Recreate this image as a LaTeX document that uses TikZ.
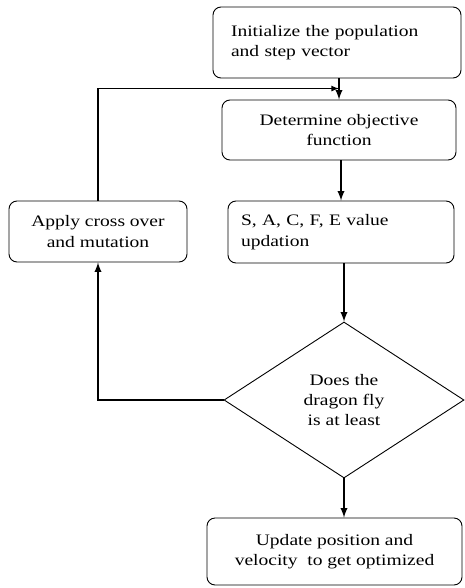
\documentclass[tikz,border=0pt]{standalone}
\usepackage{fontspec}
\setmainfont[FakeStretch=1.22]{Liberation Serif}
\usepackage{tikz}
\usetikzlibrary{arrows}
\usetikzlibrary{shapes.geometric}
\tikzstyle{stepbox}=[draw=black, line width=0.9pt, rounded corners=8pt, inner sep=0pt, align=center, font=\fontsize{16}{20.5}\selectfont]
\tikzstyle{query}=[draw=black, line width=0.9pt, diamond, inner sep=0pt, align=center, font=\fontsize{16}{20}\selectfont]
\tikzstyle{flow}=[line width=2.2pt, -latex]
\tikzstyle{back}=[line width=1.6pt, -latex]

\begin{document}
\begin{tikzpicture}[x=1pt, y=-1pt]
    \useasboundingbox (0,0) rectangle (465,588);

    \node[stepbox, minimum width=248pt, minimum height=71pt, text width=212pt, align=left] (init) at (337,42.5) {Initialize the population\\and step vector};
    \node[stepbox, minimum width=234pt, minimum height=60pt] (objfn) at (339,130) {Determine objective\\function};
    \node[stepbox, minimum width=226pt, minimum height=62pt, text width=200pt, align=left] (update) at (341,232) {S, A, C, F, E value\\updation};
    \node[stepbox, minimum width=178pt, minimum height=61pt] (cross) at (98,231.5) {Apply cross over\\and mutation};
    \node[query, minimum width=240pt, minimum height=156pt] (check) at (344,400) {Does the\\dragon fly\\is at least};
    \node[stepbox, minimum width=255pt, minimum height=67pt] (result) at (334.5,551.5) {Update position and\\velocity\ \ to get optimized};

    \coordinate (merge) at ([yshift=11pt]objfn.north);

    \draw[flow] (init.south -| objfn.north) -- (objfn.north);
    \draw[flow] (objfn.south -| update.north) -- (update.north);
    \draw[flow] (update.south -| check.north) -- (check.north);
    \draw[flow] (check.south) -- (result.north -| check.south);

    \draw[flow] (check.west) -| (cross.south);
    \draw[back] (cross.north) |- (merge);
  \end{tikzpicture}
\end{document}
